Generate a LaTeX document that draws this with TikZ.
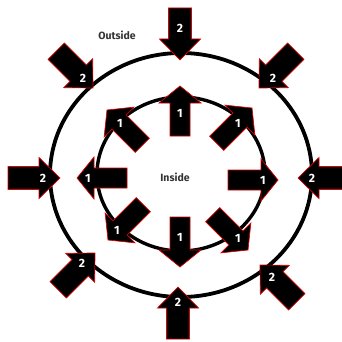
\documentclass[tikz,border=0pt]{standalone}
\usepackage{fontspec}
\setmainfont{Fira Sans}
\begin{document}
\begin{tikzpicture}[x=1pt,y=-1pt,
  arrowbody/.style={fill=black,draw=red!85!black,line width=0.7pt,line join=miter},
  numlabel/.style={text=white,font=\bfseries\fontsize{12}{12}\selectfont,inner sep=0pt},
  ringline/.style={draw=black,line width=3.8pt},
  wordlabel/.style={text=black!80,font=\bfseries\fontsize{10.5}{10.5}\selectfont,inner sep=0pt}]
\useasboundingbox[fill=white] (0,0) rectangle (341,342);
% rings
\draw[ringline] (181,175) ellipse [x radius=131, y radius=122];
\draw[ringline, line width=3.4pt] (181,174) ellipse [x radius=84, y radius=77];
% outer arrows (pointing in)
\newcommand\outarr[5]{%
  \filldraw[arrowbody, shift={#2}, rotate=#3] (0,0) -- (-21,-20.5) -- (-21,-11.5) -- (-52,-11.5) -- (-52,11.5) -- (-21,11.5) -- (-21,20.5) -- cycle;
  \node[numlabel] (#1) at #4 {#5};}
\newcommand\inarr[5]{%
  \filldraw[arrowbody, shift={#2}, rotate=#3] (0,0) -- (-17,-21) -- (-17,-10) -- (-50,-10) -- (-50,10) -- (-17,10) -- (-17,21) -- cycle;
  \node[numlabel] (#1) at #4 {#5};}
\outarr{o1}{(180,60)}{-90}{(180,28)}{2}
\outarr{o2}{(60,178)}{0}{(43,178)}{2}
\outarr{o3}{(298,178)}{180}{(312,178)}{2}
\outarr{o4}{(178,287)}{90}{(178,302)}{2}
\outarr{o5}{(93,88)}{-45}{(83,78)}{2}
\outarr{o6}{(259,88)}{-135}{(273,78)}{2}
\outarr{o7}{(95,253)}{45}{(82,263)}{2}
\outarr{o8}{(260,265)}{135}{(272,277)}{2}
% inner arrows (pointing out)
\inarr{i1}{(180,86)}{90}{(180,113)}{1}
\inarr{i2}{(77,178)}{180}{(88,178)}{1}
\inarr{i3}{(278,180)}{0}{(263,180)}{1}
\inarr{i4}{(180,267)}{-90}{(180,237)}{1}
\inarr{i5}{(107,110)}{135}{(120,123)}{1}
\inarr{i6}{(252,108)}{45}{(238,123)}{1}
\inarr{i7}{(108,240)}{-135}{(117,230)}{1}
\inarr{i8}{(248,250)}{-45}{(238,238)}{1}
% words
\node[wordlabel] (outside) at (117,35) {Outside};
\node[wordlabel] (inside) at (175,177) {Inside};
\end{tikzpicture}
\end{document}
